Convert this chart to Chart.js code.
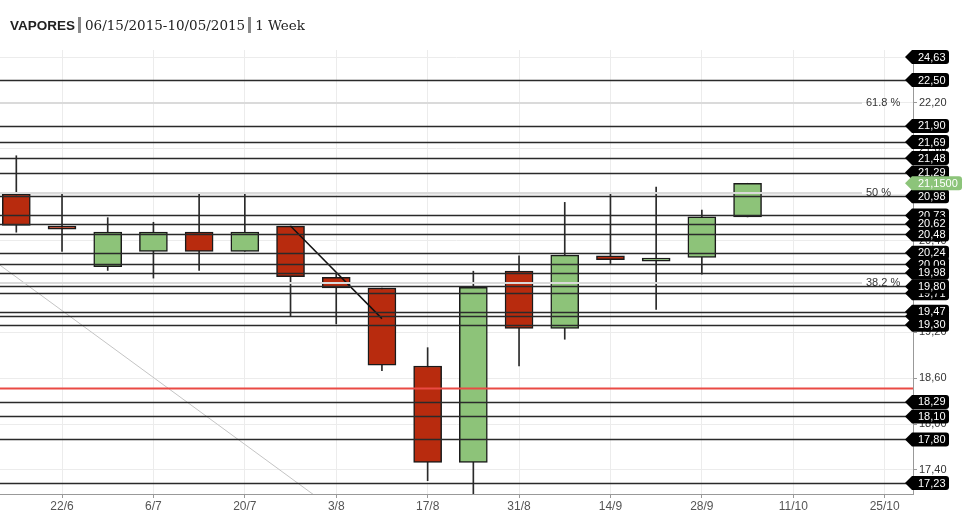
<!DOCTYPE html>
<html><head><meta charset="utf-8">
<script src="https://cdn.jsdelivr.net/npm/chart.js@4.4.1/dist/chart.umd.min.js"></script>
<style>
html,body{margin:0;padding:0;background:#fff;width:963px;height:513px;overflow:hidden}
#wrap{position:absolute;left:0;top:0;width:963px;height:513px}
#title{position:absolute;left:10px;top:15px;white-space:nowrap;color:#222;z-index:2;line-height:18px;height:18px}
#title .t1{font:bold 13.5px "Liberation Sans",Arial,sans-serif;vertical-align:middle}
#title .t2{font:13.5px "DejaVu Serif",serif;vertical-align:middle}
#title .sep{display:inline-block;width:3px;height:16px;background:#8a8a8a;margin:0 4px 0 3px;vertical-align:middle}
</style></head><body>
<div id="title"><span class="t1">VAPORES</span><span class="sep"></span><span class="t2">06/15/2015-10/05/2015</span><span class="sep"></span><span class="t2">1 Week</span></div>
<div id="wrap"><canvas id="c"></canvas></div>
<script>
const weeks = ['15/6','22/6','29/6','6/7','13/7','20/7','27/7','3/8','10/8','17/8','24/8','31/8','7/9','14/9','21/9','28/9','5/10'];
const openV  = [21.01,20.59,20.06,20.26,20.51,20.26,20.59,19.92,19.78,18.76,17.50,20.00,19.25,20.20,20.13,20.18,20.71];
const highV  = [21.51,21.01,20.70,20.64,21.01,21.01,20.59,19.97,19.78,19.00,20.00,20.20,20.90,21.01,21.10,20.80,21.15];
const lowV   = [20.51,20.26,20.01,19.91,20.01,20.26,19.41,19.31,18.70,17.26,17.05,18.76,19.11,20.10,19.50,19.96,20.71];
const closeV = [20.60,20.55,20.51,20.51,20.26,20.51,19.93,19.78,18.77,17.50,19.79,19.25,20.21,20.15,20.17,20.71,21.15];

const levels = [20.73,20.09,19.71,19.41,21.29,24.63,22.50,21.90,21.69,21.48,20.98,20.62,20.48,20.24,19.98,19.80,19.47,19.30,18.29,18.10,17.80,17.23];
const fibLevels = [22.20,21.02,19.84];
const fibLabels = ['61.8 %','50 %','38.2 %'];
const redLevel = 18.47;
const trendX = [6,8];
const trendY = [20.59,19.38];
const grayX = [-1,7];
const grayY = [20.36,16.86];

const yTicks = [17.40,18.00,18.60,19.20,19.80,20.40,21.00,21.60,22.20,22.80];
const xTickIdx = [1,3,5,7,9,11,13,15,17,19];
const xTickLabels = ['22/6','6/7','20/7','3/8','17/8','31/8','14/9','28/9','11/10','25/10'];

const fmt = (v,d=2) => Number(v).toFixed(d).replace('.',',');
const RED = '#b82b0e', GREEN = '#8dc379';

function tag(ctx, x, yc, w, color, text){
  const h = 14, r = 3;
  ctx.beginPath();
  ctx.moveTo(x-8, yc);
  ctx.lineTo(x-1, yc-h/2);
  ctx.lineTo(x+w-r, yc-h/2);
  ctx.quadraticCurveTo(x+w, yc-h/2, x+w, yc-h/2+r);
  ctx.lineTo(x+w, yc+h/2-r);
  ctx.quadraticCurveTo(x+w, yc+h/2, x+w-r, yc+h/2);
  ctx.lineTo(x-1, yc+h/2);
  ctx.closePath();
  ctx.fillStyle = color;
  ctx.fill();
  ctx.fillStyle = '#fff';
  ctx.font = '11px "Liberation Sans", Arial, sans-serif';
  ctx.textAlign = 'left';
  ctx.textBaseline = 'middle';
  ctx.fillText(text, x+5, yc+0.5);
}

const levelPlugin = {
  id: 'levels',
  afterDatasetsDraw(chart){
    const {ctx, chartArea:a, scales:{y}} = chart;
    ctx.save();
    ctx.beginPath(); ctx.rect(a.left, a.top, a.right-a.left, a.bottom-a.top); ctx.clip();
    fibLevels.forEach((v,i)=>{
      const py = Math.round(y.getPixelForValue(v));
      ctx.strokeStyle = '#dadada'; ctx.lineWidth = 2;
      ctx.beginPath(); ctx.moveTo(a.left, py); ctx.lineTo(a.right-51, py); ctx.stroke();
      ctx.fillStyle = '#333'; ctx.font = '11px "Liberation Sans", Arial, sans-serif';
      ctx.textAlign = 'left'; ctx.textBaseline = 'middle';
      ctx.fillText(fibLabels[i], a.right-47, py);
    });
    levels.forEach(v=>{
      const py = Math.round(y.getPixelForValue(v)) + 0.5;
      ctx.strokeStyle = '#2a2a2a'; ctx.lineWidth = 1.5;
      ctx.beginPath(); ctx.moveTo(a.left, py); ctx.lineTo(a.right, py); ctx.stroke();
    });
    const ry = Math.round(y.getPixelForValue(redLevel)) + 0.5;
    ctx.strokeStyle = '#ea4a44'; ctx.lineWidth = 2;
    ctx.beginPath(); ctx.moveTo(a.left, ry); ctx.lineTo(a.right, ry); ctx.stroke();
    ctx.restore();
  },
  afterDraw(chart){
    const {ctx, chartArea:a, scales:{y}} = chart;
    ctx.save();
    const clampY = p => Math.max(a.top+7, Math.min(a.bottom-7, p));
    levels.forEach(v=>{
      tag(ctx, a.right, clampY(y.getPixelForValue(v)), 36, '#000', fmt(v));
    });
    const last = closeV[closeV.length-1];
    tag(ctx, a.right, clampY(y.getPixelForValue(last)), 49, '#8cc47a', fmt(last,4));
    ctx.restore();
  }
};

new Chart(document.getElementById('c'), {
  type: 'bar',
  data: {
    datasets: [
      {
        type: 'line', label: 'gray',
        data: grayX.map((x,i)=>({x, y: grayY[i]})),
        borderColor: '#c4c4c4', borderWidth: 1, pointRadius: 0, order: 5
      },
      {
        type: 'bar', label: 'wick',
        data: weeks.map((w,i)=>({x:i, y:[lowV[i], highV[i]]})),
        backgroundColor: '#2a2a2a', borderWidth: 0, barThickness: 1, grouped: false, order: 3
      },
      {
        type: 'bar', label: 'body',
        data: weeks.map((w,i)=>({x:i, y:[openV[i], closeV[i]]})),
        backgroundColor: weeks.map((w,i)=> closeV[i] >= openV[i] ? GREEN : RED),
        borderColor: '#1a1a1a', borderWidth: 1.5, borderSkipped: false,
        barThickness: 28, grouped: false, order: 2
      },
      {
        type: 'line', label: 'trend',
        data: trendX.map((x,i)=>({x, y: trendY[i]})),
        borderColor: '#111', borderWidth: 1.5, pointRadius: 0, order: 1
      }
    ]
  },
  options: {
    responsive: true, maintainAspectRatio: false, animation: false,
    layout: { padding: { top: 50, left: 0, right: 0, bottom: 0 } },
    plugins: { legend: { display: false }, tooltip: { enabled: false }, title: { display: false } },
    scales: {
      x: {
        type: 'linear', min: -0.357, max: 19.62, offset: false,
        afterBuildTicks: s => { s.ticks = xTickIdx.map(v=>({value:v})); },
        afterFit: s => { s.height = 19; },
        grid: { color: '#ececec', tickLength: 4, tickColor: '#999', offset: false },
        border: { color: '#999' },
        ticks: {
          padding: 1, autoSkip: false, maxRotation: 0, color: '#555',
          font: { size: 12, family: '"Liberation Sans", Arial, sans-serif' },
          callback: v => xTickLabels[xTickIdx.indexOf(v)]
        }
      },
      y: {
        type: 'linear', position: 'right', min: 17.086, max: 22.893,
        afterBuildTicks: s => { s.ticks = yTicks.map(v=>({value:v})); },
        afterFit: s => { s.width = 50; },
        grid: { color: '#ececec', tickLength: 4, tickColor: '#999' },
        border: { color: '#999' },
        ticks: {
          padding: 2, autoSkip: false, color: '#333',
          font: { size: 11, family: '"Liberation Sans", Arial, sans-serif' },
          callback: v => fmt(v)
        }
      }
    }
  },
  plugins: [levelPlugin]
});
</script>
</body></html>
